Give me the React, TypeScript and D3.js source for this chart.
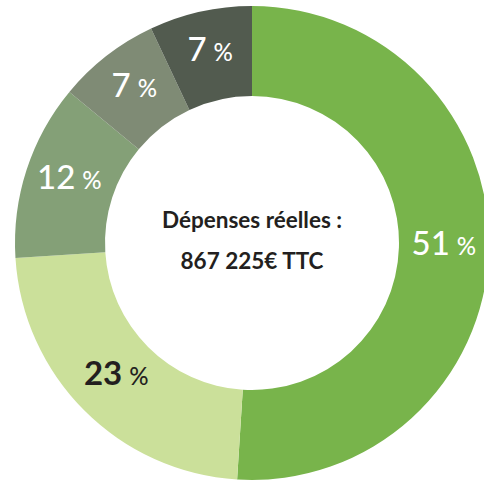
import React from "react";
import * as d3 from "d3";

const categories = ["A", "B", "C", "D", "E"];
const values = [51, 23, 12, 7, 7];
const labels = ["51", "23", "12", "7", "7"];
const colors = ["#78b44b", "#cbe09a", "#84a077", "#7f8b75", "#525b4f"];
const labelColors = ["#ffffff", "#231f20", "#ffffff", "#ffffff", "#ffffff"];
const centerLines = ["Dépenses réelles :", "867 225€ TTC"];

const W = 484;
const H = 483;
const cx = 252;
const cy = 243;
const outerR = 237;
const innerR = 147;

export default function App() {
  const pie = d3
    .pie<number>()
    .sort(null)
    .value((d) => d);
  const arcs = pie(values);
  const arc = d3.arc<d3.PieArcDatum<number>>().innerRadius(innerR).outerRadius(outerR);
  const labelArc = d3
    .arc<d3.PieArcDatum<number>>()
    .innerRadius(innerR + 45)
    .outerRadius(innerR + 45);

  return (
    <svg
      width={W}
      height={H}
      style={{ position: "fixed", left: 0, top: 0, background: "#fff" }}
      fontFamily="Lato, 'Noto Sans', sans-serif"
    >
      <g transform={`translate(${cx},${cy})`}>
        {arcs.map((a, i) => (
          <path key={categories[i]} d={arc(a) || ""} fill={colors[i]} />
        ))}
        {arcs.map((a, i) => {
          const [x, y] = labelArc.centroid(a);
          return (
            <text
              key={"l" + i}
              x={x}
              y={y}
              dy="0.36em"
              textAnchor="middle"
              fill={labelColors[i]}
            >
              <tspan fontSize={33} fontWeight={i === 1 ? 700 : 500}>
                {labels[i]}
              </tspan>
              <tspan fontSize={24} dx={7} fontWeight={500}>
                %
              </tspan>
            </text>
          );
        })}
        <text
          x={0}
          y={-15}
          textAnchor="middle"
          fontSize={22.5}
          fontWeight={700}
          fill="#231f20"
        >
          {centerLines[0]}
        </text>
        <text
          x={0}
          y={26}
          textAnchor="middle"
          fontSize={22.5}
          fontWeight={700}
          fill="#231f20"
        >
          {centerLines[1]}
        </text>
      </g>
    </svg>
  );
}
